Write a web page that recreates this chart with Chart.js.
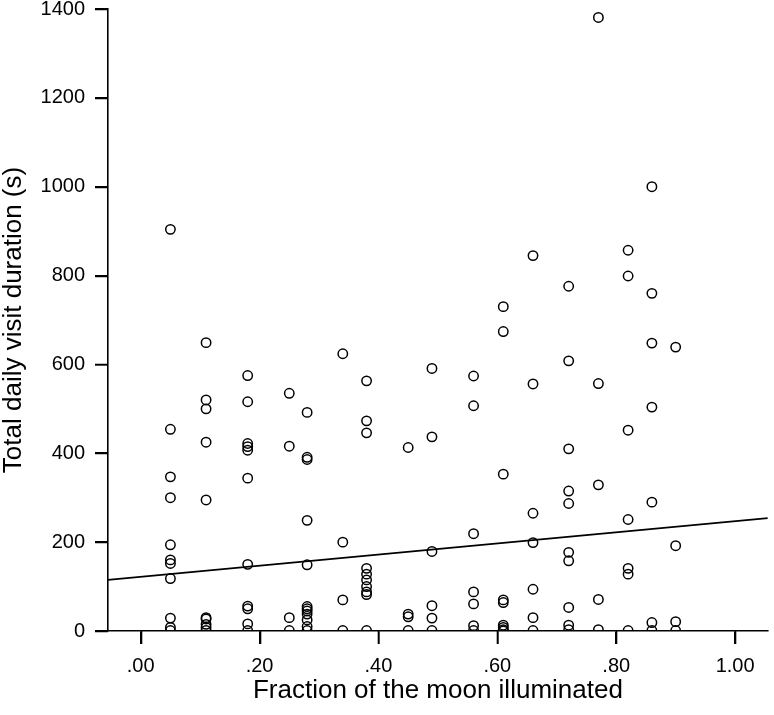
<!DOCTYPE html>
<html>
<head>
<meta charset="utf-8">
<script src="https://cdn.jsdelivr.net/npm/chart.js@4/dist/chart.umd.min.js"></script>
<style>
  html, body { margin: 0; padding: 0; background: #ffffff; }
  #wrap { width: 774px; height: 715px; }
</style>
</head>
<body>
<div id="wrap"><canvas id="c" width="774" height="715"></canvas></div>
<script>
// Fraction of the moon illuminated (one value per observed night group)
const moonFraction = [0.05, 0.11, 0.18, 0.25, 0.28, 0.34, 0.38, 0.45, 0.49, 0.56, 0.61, 0.66, 0.72, 0.77, 0.82, 0.86, 0.90];

// Total daily visit durations (s) for each fraction above
const dur005 = [904, 454, 347, 300, 194, 160, 152, 118, 29, 8, 1];
const dur011 = [649, 520, 500, 425, 295, 30, 27, 15, 8, 1];
const dur018 = [575, 516, 422, 415, 407, 344, 150, 56, 50, 16, 1];
const dur025 = [535, 416, 30, 1];
const dur028 = [492, 391, 386, 249, 149, 55, 50, 45, 38, 25, 10, 1];
const dur034 = [624, 200, 70, 1];
const dur038 = [563, 473, 446, 141, 128, 115, 100, 88, 82, 1];
const dur045 = [413, 38, 32, 1];
const dur049 = [591, 437, 179, 57, 29, 1];
const dur056 = [574, 507, 219, 88, 61, 12, 1];
const dur061 = [730, 674, 353, 70, 64, 13, 8, 3, 0];
const dur066 = [845, 556, 265, 199, 94, 30, 1];
const dur072 = [776, 608, 410, 315, 287, 177, 158, 53, 13, 3];
const dur077 = [1381, 557, 329, 71, 3];
const dur082 = [857, 799, 452, 251, 141, 128, 1];
const dur086 = [1000, 760, 648, 504, 290, 19, 1];
const dur090 = [639, 192, 21, 1];

const durations = [dur005, dur011, dur018, dur025, dur028, dur034, dur038, dur045, dur049,
                   dur056, dur061, dur066, dur072, dur077, dur082, dur086, dur090];

// Fitted regression line endpoints (x at axis limits, y)
const fitX = [-0.055, 1.055];
const fitY = [115, 254];

// Axis ticks
const xTicks = [0, 0.2, 0.4, 0.6, 0.8, 1.0];
const yMin = 0, yMax = 1400, yStep = 200;

const scatterData = [];
moonFraction.forEach((x, i) => durations[i].forEach(y => scatterData.push({ x: x, y: y })));
const fitData = fitX.map((x, i) => ({ x: x, y: fitY[i] }));

const FONT = "'Liberation Sans', Arial, Helvetica, sans-serif";
const TICK_LEN = 13;

// Draws outward tick marks from the library's scales (backup for grid ticks)
const tickMarks = {
  id: 'tickMarks',
  afterDraw(chart) {
    const ctx = chart.ctx;
    const xs = chart.scales.x, ys = chart.scales.y;
    const ca = chart.chartArea;
    ctx.save();
    ctx.strokeStyle = '#000000';
    ctx.lineWidth = 1.6;
    ctx.beginPath();
    xs.ticks.forEach(t => {
      const px = Math.round(xs.getPixelForValue(t.value)) + 0.5;
      ctx.moveTo(px, ca.bottom);
      ctx.lineTo(px, ca.bottom + TICK_LEN);
    });
    ys.ticks.forEach(t => {
      const py = Math.round(ys.getPixelForValue(t.value)) + 0.5;
      ctx.moveTo(ca.left, py);
      ctx.lineTo(ca.left - TICK_LEN, py);
    });
    ctx.stroke();
    ctx.restore();
  }
};

new Chart(document.getElementById('c'), {
  type: 'scatter',
  plugins: [tickMarks],
  data: {
    datasets: [
      {
        type: 'line',
        data: fitData,
        borderColor: '#000000',
        borderWidth: 1.8,
        pointRadius: 0,
        fill: false,
        tension: 0,
        order: 2
      },
      {
        data: scatterData,
        pointStyle: 'circle',
        pointRadius: 4.7,
        pointBorderWidth: 1.5,
        borderColor: '#000000',
        backgroundColor: 'rgba(0,0,0,0)',
        order: 1
      }
    ]
  },
  options: {
    responsive: false,
    animation: false,
    events: [],
    layout: { padding: { left: 0, right: 1, top: 0, bottom: 0 } },
    plugins: { legend: { display: false }, tooltip: { enabled: false } },
    scales: {
      x: {
        type: 'linear',
        min: fitX[0],
        max: fitX[1],
        afterBuildTicks: (s) => { s.ticks = xTicks.map(v => ({ value: v })); },
        afterFit: (s) => { s.height = 84; s.paddingLeft = 0; s.paddingRight = 0; },
        border: { display: true, color: '#000000', width: 1.6 },
        grid: { display: true, drawOnChartArea: false, drawTicks: true, tickLength: TICK_LEN,
                color: '#000000', lineWidth: 1.6, tickColor: '#000000', tickWidth: 1.6 },
        ticks: {
          color: '#000000',
          padding: 10,
          maxRotation: 0,
          autoSkip: false,
          font: { family: FONT, size: 20 },
          callback: (v) => { const s = Number(v).toFixed(2); return s.startsWith('0') ? s.slice(1) : s; }
        },
        title: {
          display: true,
          text: 'Fraction of the moon illuminated',
          color: '#000000',
          font: { family: FONT, size: 26, lineHeight: 1.2 },
          padding: { top: 0, bottom: 9 }
        }
      },
      y: {
        type: 'linear',
        min: yMin,
        max: yMax,
        afterFit: (s) => { s.width = 108; s.paddingTop = 9; },
        border: { display: true, color: '#000000', width: 1.6 },
        grid: { display: true, drawOnChartArea: false, drawTicks: true, tickLength: TICK_LEN,
                color: '#000000', lineWidth: 1.6, tickColor: '#000000', tickWidth: 1.6 },
        ticks: {
          stepSize: yStep,
          color: '#000000',
          padding: 10,
          font: { family: FONT, size: 20 },
          callback: (v) => String(v)
        },
        title: {
          display: true,
          text: 'Total daily visit duration (s)',
          color: '#000000',
          font: { family: FONT, size: 26, lineHeight: 1.1 },
          padding: { top: 0, bottom: 0 }
        }
      }
    }
  }
});
</script>
</body>
</html>
